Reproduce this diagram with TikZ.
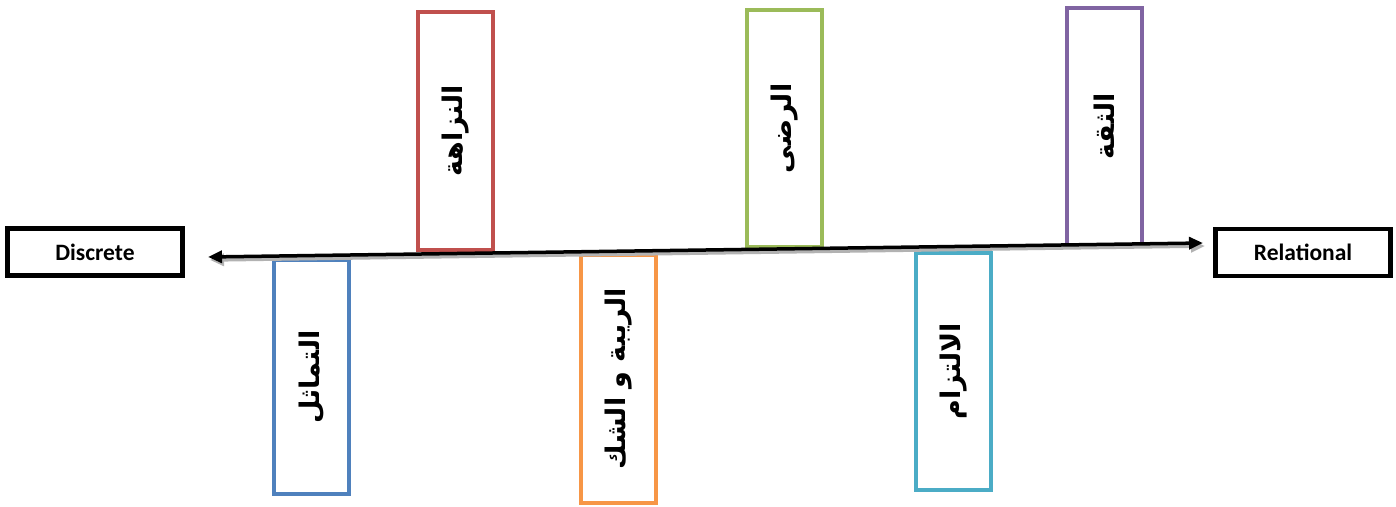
\documentclass[tikz,border=0pt]{standalone}
\usepackage{fontspec}
\setmainfont{Carlito}
\newfontfamily\arabicfont[Script=Arabic]{DejaVu Sans}
\TeXXeTstate=1
\usetikzlibrary{arrows.meta}
\definecolor{cblue}{HTML}{4F81BD}
\definecolor{cred}{HTML}{C0504D}
\definecolor{corange}{HTML}{F79646}
\definecolor{cgreen}{HTML}{9BBB59}
\definecolor{cteal}{HTML}{4BACC6}
\definecolor{cpurple}{HTML}{8064A2}
\tikzset{
  endbox/.style={draw=black, line width=4.5pt, fill=white, inner sep=0pt,
    minimum width=175pt, minimum height=47pt, font=\fontsize{23.5}{28}\selectfont\bfseries},
  vbox/.style={draw=#1, line width=4pt, fill=white, inner sep=0pt, rotate=90,
    minimum height=75pt, font=\fontsize{27}{32}\selectfont\arabicfont\bfseries},
  axis/.style={line width=3.5pt, {Triangle[length=14pt,width=12pt]}-{Triangle[length=14pt,width=12pt]}},
}
\begin{document}
\begin{tikzpicture}[x=1pt,y=-1pt]
\useasboundingbox (0,0) rectangle (1396,506);
\node[endbox] (discrete) at (95,252) {Discrete};
\node[endbox] (relational) at (1303,252.5) {Relational};
\node[vbox=cblue, minimum width=234pt] (b1) at (311.5,377) {\beginR التماثل\endR};
\node[vbox=cred, minimum width=238pt] (b2) at (455.5,131) {\beginR النزاهة\endR};
\node[vbox=corange, minimum width=248pt] (b3) at (618.5,379) {\beginR الريبة و الشك\endR};
\node[vbox=cgreen, minimum width=237pt] (b4) at (784.5,128.5) {\beginR الرضى\endR};
\node[vbox=cteal, minimum width=237pt] (b5) at (953.5,371.5) {\beginR الالتزام\endR};
\node[vbox=cpurple, minimum width=237pt] (b6) at (1104.5,126.5) {\beginR الثقة\endR};
\coordinate (aL) at (208,257);
\coordinate (aR) at (1203,243);
\coordinate (sL) at (210,260);
\coordinate (sR) at (1205,246);
\draw[axis, black!30] (sL) -- (sR);
\draw[axis] (aL) -- (aR);
\end{tikzpicture}
\end{document}
